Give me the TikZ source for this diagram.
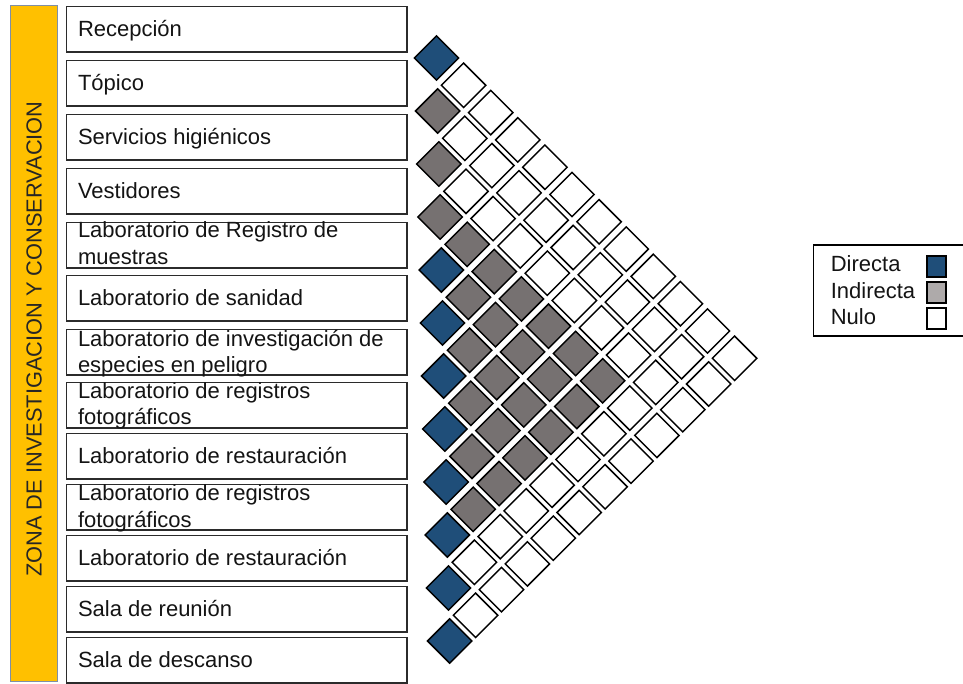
\documentclass[tikz,border=0pt]{standalone}
\usepackage{fontspec}
\setmainfont{Liberation Sans}
\usetikzlibrary{shapes.geometric}
\definecolor{dblue}{HTML}{1F4E79}
\definecolor{mgray}{HTML}{767171}
\definecolor{lgray}{HTML}{AEAAAA}
\definecolor{ybar}{HTML}{FFC000}
\definecolor{ybord}{HTML}{7F8FA6}
\definecolor{boxline}{HTML}{2B2B2B}
\begin{document}
\begin{tikzpicture}[x=1pt,y=-1pt,
  roombox/.style={draw=boxline, line width=1.3pt, fill=white, minimum width=340.6pt,
    minimum height=45.6pt, inner sep=0pt, anchor=north west},
  txt/.style={anchor=base west, inner sep=0pt, font=\fontsize{22}{26}\selectfont, text=black!92},
  cell/.style={diamond, aspect=1, draw=black, line width=1.45pt, minimum size=45pt, inner sep=0pt},
  legsq/.style={draw=black, line width=1.8pt, minimum width=19pt, minimum height=20.5pt, inner sep=0pt}
]
\useasboundingbox (0,0) rectangle (963,683);
\fill[white] (0,0) rectangle (963,683);

% yellow zone bar
\node[draw=ybord, line width=0.9pt, fill=ybar, minimum width=47pt, minimum height=676pt,
  inner sep=0pt, anchor=north west] (zone) at (9.5,5.3) {};
\node[rotate=90, inner sep=0pt, font=\fontsize{21.8}{26}\selectfont, text=black!85] (zonetxt)
  at (34.2,339) {ZONA DE INVESTIGACION Y CONSERVACION};

% room boxes
\foreach \n/\t in {1/5,2/59,3/113,4/167,5/221,6/274,7/328,8/381,9/432,10/483,11/534,12/585,13/636}{
  \node[roombox] (b\n) at (65.7,\t+0.7) {};
}
% single-line texts (baseline = top + 31.5)
\node[txt] (t1) at (77.8,36.5) {Recepción};
\node[txt] (t2) at (77.8,90.5) {Tópico};
\node[txt] (t3) at (77.8,144.5) {Servicios higiénicos};
\node[txt] (t4) at (77.8,198.5) {Vestidores};
\node[txt] (t6) at (77.8,305.5) {Laboratorio de sanidad};
\node[txt] (t9) at (77.8,463.5) {Laboratorio de restauración};
\node[txt] (t11) at (77.8,565.5) {Laboratorio de restauración};
\node[txt] (t12) at (77.8,616.5) {Sala de reunión};
\node[txt] (t13) at (77.8,667.5) {Sala de descanso};
% two-line texts
\node[txt] (t5a) at (77.8,237.5) {Laboratorio de Registro de};
\node[txt] (t5b) at (77.8,264) {muestras};
\node[txt] (t7a) at (77.8,346.5) {Laboratorio de investigación de};
\node[txt] (t7b) at (77.8,372.8) {especies en peligro};
\node[txt] (t8a) at (77.8,398.3) {Laboratorio de registros};
\node[txt] (t8b) at (77.8,424.5) {fotográficos};
\node[txt] (t10a) at (77.8,500.8) {Laboratorio de registros};
\node[txt] (t10b) at (77.8,527) {fotográficos};

% relationship matrix
\foreach \i in {1,...,12}{
  \pgfmathtruncatemacro\jstart{\i+1}
  \foreach \j in {\jstart,...,13}{
    \pgfmathsetmacro\cx{436.5+27.1*(\j-2)-25.9*(\i-1)}
    \pgfmathsetmacro\cy{58+27.3*(\j-2)+25.7*(\i-1)}
    \def\cc{white}
    \ifnum\numexpr\j-\i\relax=1
      \ifnum\i<2 \def\cc{dblue}\else\ifnum\i>4 \def\cc{dblue}\else\def\cc{mgray}\fi\fi
    \else
      \ifnum\i>3 \ifnum\i<10 \ifnum\j>5 \ifnum\j<12 \def\cc{mgray}\fi\fi\fi\fi
    \fi
    \node[cell, fill=\cc] (d\i-\j) at (\cx,\cy) {};
  }
}

% legend
\node[draw=black, line width=1.5pt, minimum width=150pt, minimum height=91pt, inner sep=0pt,
  anchor=north west] (legend) at (812.7,244.2) {};
\node[txt] (l1) at (830.6,271.3) {Directa};
\node[txt] (l2) at (830.6,298) {Indirecta};
\node[txt] (l3) at (830.6,324.7) {Nulo};
\node[legsq, fill=dblue] (s1) at (936.4,266.5) {};
\node[legsq, fill=lgray] (s2) at (936.4,292.5) {};
\node[legsq, fill=white] (s3) at (936.4,318.5) {};
\end{tikzpicture}
\end{document}
